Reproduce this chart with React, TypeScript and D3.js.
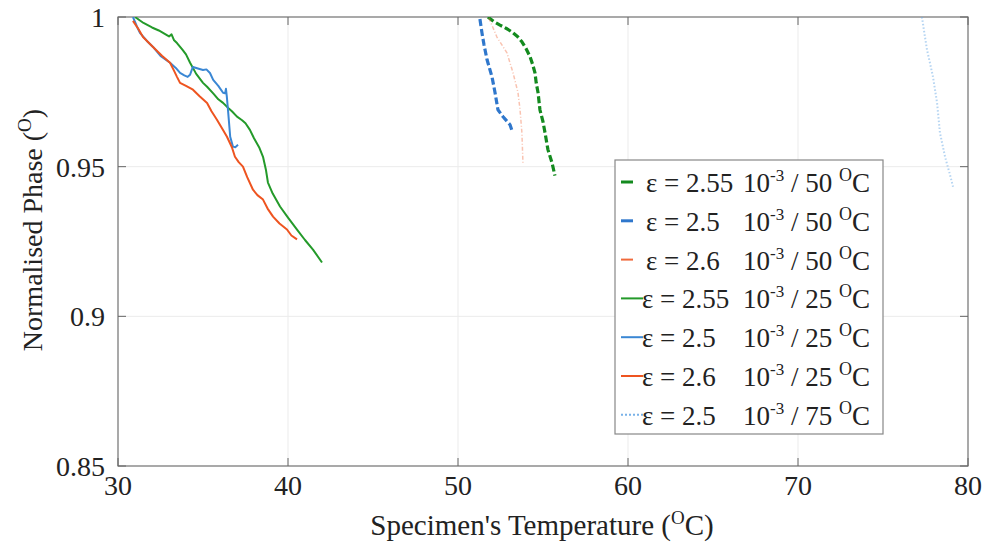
import React from "react";
import * as d3 from "d3";

type P = [number, number];

const xTicks = [30, 40, 50, 60, 70, 80];
const yTicks = [0.85, 0.9, 0.95, 1];

const green25: P[] = [
  [31.0, 1.0], [31.5, 0.998], [32.0, 0.9965], [32.4, 0.9955], [32.65, 0.9947], [33.0, 0.9935],
  [33.15, 0.9942], [33.3, 0.9922], [33.47, 0.9913], [33.8, 0.989], [34.0, 0.9875], [34.24, 0.9847],
  [34.6, 0.981], [35.0, 0.978], [35.24, 0.9767], [35.6, 0.9745], [35.9, 0.9725], [36.18, 0.9713],
  [36.5, 0.9695], [36.7, 0.9685], [37.0, 0.9667], [37.3, 0.9655], [37.5, 0.9645], [37.76, 0.9623],
  [38.0, 0.9595], [38.3, 0.9565], [38.53, 0.9533], [38.7, 0.949], [38.82, 0.9447], [39.1, 0.941],
  [39.53, 0.9367], [40.0, 0.933], [40.53, 0.929], [41.0, 0.9255], [41.47, 0.9223], [42.0, 0.918],
];

const blue25: P[] = [
  [30.88, 1.0], [31.1, 0.997], [31.29, 0.9947], [31.7, 0.992], [32.06, 0.99], [32.5, 0.987],
  [33.06, 0.9847], [33.4, 0.983], [33.65, 0.9813], [33.9, 0.9805], [34.1, 0.98], [34.24, 0.9807],
  [34.35, 0.9825], [34.41, 0.9833], [34.7, 0.9828], [35.0, 0.9823], [35.2, 0.9825], [35.41, 0.9813],
  [35.6, 0.979], [35.9, 0.977], [36.18, 0.9747], [36.3, 0.9745], [36.35, 0.976], [36.4, 0.9735],
  [36.47, 0.969], [36.6, 0.96], [36.76, 0.9567], [36.9, 0.9565], [37.06, 0.9573],
];

const red25: P[] = [
  [30.88, 0.9987], [31.2, 0.996], [31.47, 0.9933], [32.06, 0.99], [32.6, 0.987], [33.06, 0.9847],
  [33.3, 0.982], [33.47, 0.98], [33.65, 0.978], [34.0, 0.977], [34.41, 0.9757], [34.8, 0.9735],
  [35.24, 0.9713], [35.5, 0.9685], [35.82, 0.9657], [36.1, 0.963], [36.41, 0.96], [36.7, 0.9565],
  [36.88, 0.9533], [37.1, 0.9515], [37.35, 0.95], [37.6, 0.9465], [37.94, 0.9423], [38.2, 0.9405],
  [38.53, 0.939], [38.8, 0.936], [39.12, 0.9333], [39.5, 0.931], [39.94, 0.929], [40.2, 0.927],
  [40.53, 0.9257],
];

const green50: P[] = [
  [51.76, 1.0], [52.1, 0.9985], [52.47, 0.9973], [52.9, 0.996], [53.24, 0.9947], [53.5, 0.9935],
  [53.76, 0.9917], [54.0, 0.9895], [54.24, 0.9867], [54.4, 0.984], [54.53, 0.9813], [54.6, 0.978],
  [54.71, 0.9747], [54.82, 0.969], [55.0, 0.965], [55.12, 0.9613], [55.29, 0.9557], [55.53, 0.9513],
  [55.7, 0.947],
];

const blue50: P[] = [
  [51.29, 0.9993], [51.41, 0.9947], [51.53, 0.9907], [51.71, 0.9857], [52.0, 0.98], [52.18, 0.9747],
  [52.35, 0.969], [52.65, 0.9667], [53.06, 0.964], [53.18, 0.962],
];

const red50: P[] = [
  [51.82, 0.9997], [52.29, 0.9933], [52.88, 0.988], [53.24, 0.9813], [53.53, 0.9747], [53.65, 0.969],
  [53.76, 0.9613], [53.82, 0.9513],
];

const blue75: P[] = [
  [77.29, 1.0], [77.47, 0.9933], [77.59, 0.989], [77.76, 0.9847], [77.94, 0.98], [78.06, 0.9757],
  [78.18, 0.9713], [78.35, 0.9613], [78.65, 0.9533], [78.94, 0.9473], [79.12, 0.9433],
];

const legendLabels = [
  { eps: "2.55", temp: "50" },
  { eps: "2.5", temp: "50" },
  { eps: "2.6", temp: "50" },
  { eps: "2.55", temp: "25" },
  { eps: "2.5", temp: "25" },
  { eps: "2.6", temp: "25" },
  { eps: "2.5", temp: "75" },
];

const W = 988;
const H = 547;
const L = 118, R = 968, T = 17, B = 466;
const FONT = "'Liberation Serif', 'Times New Roman', serif";

const series = [
  { data: green50, color: "#138a1e", width: 3.2, dash: "7,3", opacity: 1, legendLen: 12 },
  { data: blue50, color: "#2f77cc", width: 3.2, dash: "7,3", opacity: 1, legendLen: 12 },
  { data: red50, color: "#f06a3c", width: 1.5, dash: "4,2,1,2", opacity: 0.4, legendLen: 12 },
  { data: green25, color: "#249a2a", width: 2, dash: null, opacity: 1, legendLen: 22 },
  { data: blue25, color: "#3a87d4", width: 2, dash: null, opacity: 1, legendLen: 22 },
  { data: red25, color: "#ee5420", width: 2, dash: null, opacity: 1, legendLen: 22 },
  { data: blue75, color: "#6aaae6", width: 2, dash: "1.5,2", opacity: 0.5, legendLen: 22 },
];

export default function App() {
  const x = d3.scaleLinear().domain([30, 80]).range([L, R]);
  const y = d3.scaleLinear().domain([0.85, 1]).range([B, T]);
  const line = d3
    .line<P>()
    .x((d) => x(d[0]))
    .y((d) => y(d[1]));

  const legX = 615, legY = 160, legW = 268, legH = 274;
  const rowY0 = 182, rowStep = 38.8;

  return (
    <svg width={W} height={H} style={{ position: "absolute", left: 0, top: 0, background: "#fff" }}>
      <defs>
        <clipPath id="plot">
          <rect x={L} y={T} width={R - L} height={B - T} />
        </clipPath>
      </defs>
      {xTicks.map((t) => (
        <line key={"gx" + t} x1={x(t)} x2={x(t)} y1={T} y2={B} stroke="#ebebeb" strokeWidth={1} />
      ))}
      {yTicks.map((t) => (
        <line key={"gy" + t} x1={L} x2={R} y1={y(t)} y2={y(t)} stroke="#ebebeb" strokeWidth={1} />
      ))}
      <rect x={L} y={T} width={R - L} height={B - T} fill="none" stroke="#777" strokeWidth={1.2} />
      {xTicks.map((t) => (
        <g key={"tx" + t}>
          <line x1={x(t)} x2={x(t)} y1={B} y2={B - 8} stroke="#666" />
          <line x1={x(t)} x2={x(t)} y1={T} y2={T + 8} stroke="#666" />
          <text x={x(t)} y={495} textAnchor="middle" fontFamily={FONT} fontSize={28} fill="#222">
            {t}
          </text>
        </g>
      ))}
      {yTicks.map((t) => (
        <g key={"ty" + t}>
          <line x1={L} x2={L + 8} y1={y(t)} y2={y(t)} stroke="#666" />
          <line x1={R} x2={R - 8} y1={y(t)} y2={y(t)} stroke="#666" />
          <text x={105} y={y(t) + 10} textAnchor="end" fontFamily={FONT} fontSize={28} fill="#222">
            {String(t)}
          </text>
        </g>
      ))}
      <g clipPath="url(#plot)">
        {series.map((s, i) => (
          <path
            key={i}
            d={line(s.data) || ""}
            fill="none"
            stroke={s.color}
            strokeWidth={s.width}
            strokeDasharray={s.dash || undefined}
            strokeOpacity={s.opacity}
            strokeLinejoin="round"
          />
        ))}
      </g>
      <text x={542} y={535} textAnchor="middle" fontFamily={FONT} fontSize={29} fill="#222">
        Specimen's Temperature (
        <tspan dy={-11} fontSize={19}>O</tspan>
        <tspan dy={11}>C)</tspan>
      </text>
      <text
        transform={`translate(42, 230) rotate(-90)`}
        textAnchor="middle"
        fontFamily={FONT}
        fontSize={28}
        fill="#222"
      >
        Normalised Phase (
        <tspan dy={-11} fontSize={19}>O</tspan>
        <tspan dy={11}>)</tspan>
      </text>
      <rect x={legX} y={legY} width={legW} height={legH} fill="#fff" stroke="#888" strokeWidth={1.2} />
      {legendLabels.map((lab, i) => {
        const s = series[i];
        const cy = rowY0 + i * rowStep;
        const textX = s.legendLen > 15 ? 642 : 646;
        return (
          <g key={"lg" + i}>
            <line
              x1={621}
              x2={621 + s.legendLen}
              y1={cy}
              y2={cy}
              stroke={s.color}
              strokeWidth={s.width > 2.5 ? 3 : 2}
              strokeDasharray={i === 6 ? "2,2" : undefined}
              strokeOpacity={i === 6 ? 0.9 : 1}
            />
            <text x={textX} y={cy + 10} fontFamily={FONT} fontSize={27} fill="#222">
              {"ε = " + lab.eps}
            </text>
            <text x={743} y={cy + 10} fontFamily={FONT} fontSize={27} fill="#222">
              10
              <tspan dy={-11} fontSize={17}>-3</tspan>
              <tspan dy={11}>{" / " + lab.temp + " "}</tspan>
              <tspan dy={-11} fontSize={18}>O</tspan>
              <tspan dy={11}>C</tspan>
            </text>
          </g>
        );
      })}
    </svg>
  );
}
